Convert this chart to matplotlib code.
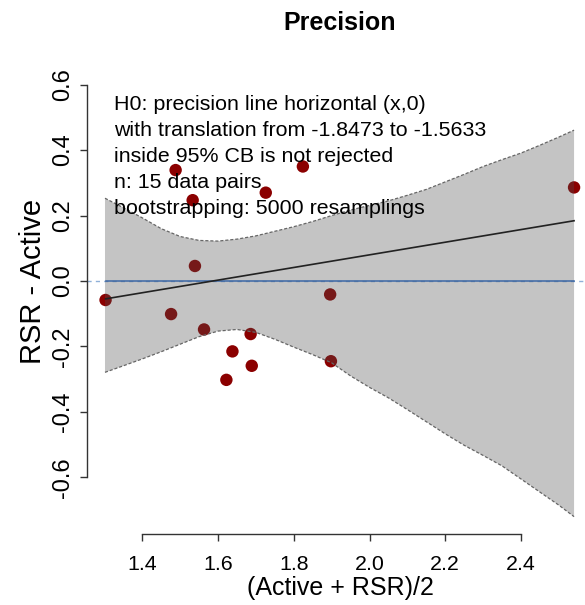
import matplotlib
matplotlib.use("Agg")
import matplotlib.pyplot as plt
import numpy as np

plt.rcParams["font.family"] = ["Liberation Sans", "DejaVu Sans"]
plt.rcParams["axes.unicode_minus"] = False

# Paired measurements: mean of the two methods vs. their difference
mean_vals = [1.303, 1.476, 1.488, 1.533, 1.539, 1.563, 1.622, 1.638,
             1.686, 1.689, 1.726, 1.824, 1.896, 1.898, 2.540]
diff_vals = [-0.058, -0.101, 0.339, 0.247, 0.046, -0.148, -0.302, -0.215,
             -0.162, -0.259, 0.270, 0.350, -0.041, -0.245, 0.286]

# Fitted precision line
fit_intercept = -0.306
fit_slope = 0.193

# Bootstrap 95% confidence band
band_x = [1.3015, 1.35, 1.40, 1.45, 1.50, 1.55, 1.60, 1.65, 1.70, 1.75, 1.80,
          1.85, 1.90, 1.95, 2.00, 2.05, 2.10, 2.15, 2.20, 2.25, 2.30, 2.35,
          2.40, 2.45, 2.50, 2.54]
band_upper = [0.253, 0.224, 0.193, 0.160, 0.136, 0.124, 0.122, 0.128, 0.138,
              0.152, 0.166, 0.182, 0.200, 0.217, 0.231, 0.245, 0.262, 0.280,
              0.303, 0.326, 0.350, 0.371, 0.391, 0.415, 0.440, 0.461]
band_lower = [-0.279, -0.259, -0.238, -0.216, -0.193, -0.170, -0.153, -0.148,
              -0.157, -0.178, -0.202, -0.225, -0.250, -0.290, -0.325, -0.357,
              -0.393, -0.430, -0.467, -0.502, -0.533, -0.565, -0.605, -0.645,
              -0.685, -0.720]

x_ticks = [1.4, 1.6, 1.8, 2.0, 2.2, 2.4]
y_ticks = [-0.6, -0.4, -0.2, 0.0, 0.2, 0.4, 0.6]

info_lines = [
    "H0: precision line horizontal (x,0)",
    "with translation from -1.8473 to -1.5633",
    "inside 95% CB is not rejected",
    "n: 15 data pairs",
    "bootstrapping: 5000 resamplings",
]

W, H = 585, 605
fig = plt.figure(figsize=(W / 100, H / 100), dpi=100)

# plot region in pixels (left, right, top, bottom)
L, R, T, B = 87, 593, 68.3, 534
ax = fig.add_axes([L / W, 1 - B / H, (R - L) / W, (B - T) / H])
ax.set_xlim(1.254, 2.590)
ax.set_ylim(-0.773, 0.650)

xmin, xmax = min(mean_vals), max(mean_vals)

# reference line y = 0
ax.axhline(0, color="#8fb0d8", lw=1.0, ls=(0, (3, 3)), zorder=1)
ax.plot([xmin, xmax], [0, 0], color="#3d68a6", lw=1.1, zorder=4)

# data points
ax.scatter(mean_vals, diff_vals, s=80, color="#8b0000", edgecolors="none",
           zorder=2, clip_on=False)

# confidence band drawn translucently over the points
ax.fill_between(band_x, band_lower, band_upper, facecolor="#4e4e4e",
                alpha=0.33, linewidth=0, zorder=3, clip_on=False)
for edge in (band_upper, band_lower):
    ax.plot(band_x, edge, color="#666666", lw=0.9, ls=(0, (2.5, 1.5)),
            zorder=3.5, clip_on=False)

# regression line
fx = np.array([xmin, xmax])
ax.plot(fx, fit_intercept + fit_slope * fx, color="#222222", lw=1.2, zorder=5)

# axes in base-graphics style
for s in ("top", "right"):
    ax.spines[s].set_visible(False)
ax.spines["left"].set_bounds(y_ticks[0], y_ticks[-1])
ax.spines["bottom"].set_bounds(x_ticks[0], x_ticks[-1])
for s in ("left", "bottom"):
    ax.spines[s].set_color("#333333")
    ax.spines[s].set_linewidth(1.0)
ax.set_xticks(x_ticks)
ax.set_xticklabels([f"{v:.1f}" for v in x_ticks])
ax.set_yticks(y_ticks)
ax.set_yticklabels([f"{v:.1f}" for v in y_ticks], rotation=90, va="center")
ax.tick_params(axis="both", length=5.3, width=1.0, color="#333333",
               direction="out")
ax.tick_params(axis="x", labelsize=15.4, pad=9.5)
ax.tick_params(axis="y", labelsize=17, pad=4)
ax.patch.set_visible(False)

ax.set_xlabel("(Active + RSR)/2", fontsize=18)
ax.set_ylabel("RSR - Active", fontsize=21)
ax.xaxis.set_label_coords(0.5, -(588.5 - B) / (B - T), transform=ax.transAxes)
ax.xaxis.label.set_va("center")
ax.yaxis.set_label_coords(-(L - 33) / (R - L), 0.5 - (281.5 - (T + B) / 2) / (B - T))
ax.yaxis.label.set_va("center")

fig.text(340 / W, 1 - 22.5 / H, "Precision", fontsize=18, fontweight="bold",
         ha="center", va="center")

for i, line in enumerate(info_lines):
    fig.text(114.3 / W, 1 - (109.5 + 26.1 * i) / H, line, fontsize=15.4,
             ha="left", va="baseline", zorder=10)

fig.savefig("out.png", dpi=100)
